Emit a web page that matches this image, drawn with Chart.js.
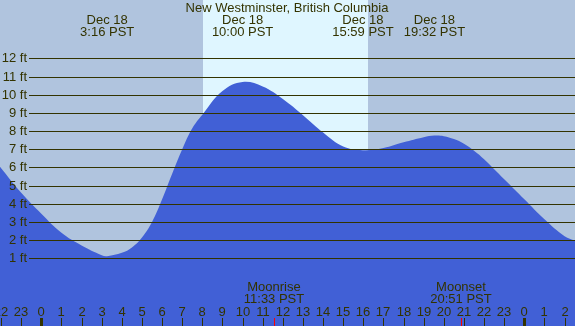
<!DOCTYPE html>
<html>
<head>
<meta charset="utf-8">
<script src="https://cdn.jsdelivr.net/npm/chart.js@4/dist/chart.umd.min.js"></script>
<style>
  html, body { margin: 0; padding: 0; background: #b0c4de; }
  canvas { display: block; }
</style>
</head>
<body>
<canvas id="tideChart" width="575" height="326"></canvas>
<script>
// tide heights (ft), hours from midnight Dec 18
const hours = [-2.06, -1, 0, 1, 2, 3, 3.27, 4, 4.5, 5, 5.5, 6, 6.5, 7, 7.5, 8, 9, 10, 11, 12, 13, 14, 15, 15.98, 17, 18, 19, 19.53, 20, 20.5, 21, 21.5, 22, 23, 24, 25, 26, 26.6];
const heights = [6.05, 4.6, 3.45, 2.4, 1.7, 1.17, 1.12, 1.3, 1.6, 2.15, 3.0, 4.25, 5.65, 7.0, 8.15, 8.9, 10.2, 10.7, 10.45, 9.76, 8.87, 7.92, 7.15, 6.95, 7.07, 7.38, 7.66, 7.75, 7.72, 7.56, 7.3, 6.92, 6.45, 5.35, 4.25, 3.15, 2.22, 1.95];

const feetLabels = [1, 2, 3, 4, 5, 6, 7, 8, 9, 10, 11, 12];
const hourTicks = [-2, -1, 0, 1, 2, 3, 4, 5, 6, 7, 8, 9, 10, 11, 12, 13, 14, 15, 16, 17, 18, 19, 20, 21, 22, 23, 24, 25, 26];

const daylight = [8.02, 16.25];

const tideEvents = [
    { hour: 3.27, date: 'Dec 18', time: '3:16 PST' },
    { hour: 10.0, date: 'Dec 18', time: '10:00 PST' },
    { hour: 15.98, date: 'Dec 18', time: '15:59 PST' },
    { hour: 19.53, date: 'Dec 18', time: '19:32 PST' }
];
const moonEvents = [
    { hour: 11.55, name: 'Moonrise', time: '11:33 PST' },
    { hour: 20.85, name: 'Moonset', time: '20:51 PST' }
];

const title = 'New Westminster, British Columbia';
const textColor = '#333300';
const font = '13px "Liberation Sans", Arial, sans-serif';

const tidePoints = hours.map((h, i) => ({ x: h, y: heights[i] }));

const decorPlugin = {
    id: 'decor',
    beforeDatasetsDraw(chart) {
        const ctx = chart.ctx;
        const xs = chart.scales.x;
        const area = chart.chartArea;
        ctx.save();
        ctx.fillStyle = '#b0c4de';
        ctx.fillRect(area.left, area.top, area.right - area.left, area.bottom - area.top);
        const x1 = Math.round(xs.getPixelForValue(daylight[0]));
        const x2 = Math.round(xs.getPixelForValue(daylight[1]));
        ctx.fillStyle = '#dff6ff';
        ctx.fillRect(x1, area.top, x2 - x1, area.bottom - area.top);
        ctx.restore();
    },
    afterDatasetsDraw(chart) {
        const ctx = chart.ctx;
        const xs = chart.scales.x;
        const ys = chart.scales.y;
        const area = chart.chartArea;
        ctx.save();
        ctx.font = font;
        ctx.fillStyle = textColor;

        // horizontal lines + ft labels
        ctx.strokeStyle = '#333300';
        ctx.lineWidth = 1;
        feetLabels.forEach(f => {
            const y = Math.round(ys.getPixelForValue(f)) + 0.5;
            ctx.beginPath();
            ctx.moveTo(29, y);
            ctx.lineTo(area.right, y);
            ctx.stroke();
            ctx.textAlign = 'right';
            ctx.textBaseline = 'middle';
            ctx.fillText(f + ' ft', 27, y);
        });

        // title and tide times
        ctx.textAlign = 'center';
        ctx.textBaseline = 'alphabetic';
        ctx.fillText(title, 287, 12);
        tideEvents.forEach(ev => {
            const x = xs.getPixelForValue(ev.hour);
            ctx.fillText(ev.date, x, 24);
            ctx.fillText(ev.time, x, 36);
        });

        // hour ticks and labels
        hourTicks.forEach(h => {
            const x = Math.round(xs.getPixelForValue(h));
            const hr = ((h % 24) + 24) % 24;
            ctx.fillStyle = textColor;
            ctx.fillText(String(hr), x, 316);
            if (hr === 0) {
                ctx.fillRect(x - 1, 318, 3, 8);
            } else {
                ctx.fillRect(x, 318, 1, 8);
            }
        });

        // moon rise / set
        moonEvents.forEach(ev => {
            const x = Math.round(xs.getPixelForValue(ev.hour));
            ctx.fillStyle = textColor;
            ctx.fillText(ev.name, x, 291);
            ctx.fillText(ev.time, x, 303);
            ctx.fillStyle = '#ff0000';
            ctx.fillRect(x, 318, 1, 8);
        });
        ctx.restore();
    }
};

new Chart(document.getElementById('tideChart'), {
    type: 'line',
    data: {
        datasets: [{
            data: tidePoints,
            fill: 'start',
            backgroundColor: '#4160d6',
            borderWidth: 0,
            pointRadius: 0,
            tension: 0.4
        }]
    },
    options: {
        responsive: false,
        animation: false,
        devicePixelRatio: 1,
        layout: { padding: 0 },
        plugins: {
            legend: { display: false },
            tooltip: { enabled: false }
        },
        scales: {
            x: {
                type: 'linear',
                display: false,
                min: -2.055,
                max: 26.517
            },
            y: {
                display: false,
                min: -2.723,
                max: 15.209
            }
        }
    },
    plugins: [decorPlugin]
});
</script>
</body>
</html>
